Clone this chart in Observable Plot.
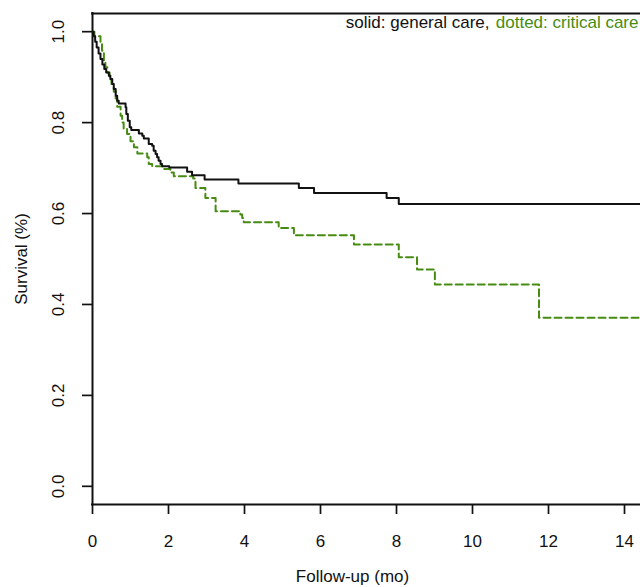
<!DOCTYPE html>
<html><head><meta charset="utf-8">
<script src="https://cdn.jsdelivr.net/npm/d3@7"></script>
<script src="https://cdn.jsdelivr.net/npm/@observablehq/plot@0.6"></script>
<style>html,body{margin:0;padding:0;background:#fff;overflow:hidden}</style>
</head><body><div id="chart"></div>
<script>
// Kaplan-Meier estimates (time in months, survival proportion)
const generalTime = [0, 0.03, 0.07, 0.11, 0.16, 0.21, 0.26, 0.31, 0.36, 0.43, 0.47, 0.52, 0.56, 0.61, 0.65, 0.69, 0.87, 0.89, 0.93, 0.98, 1.02, 1.22, 1.31, 1.35, 1.48, 1.57, 1.61, 1.66, 1.70, 1.74, 1.79, 1.83, 2.02, 2.49, 2.62, 2.95, 3.84, 5.43, 5.83, 7.74, 8.06, 14.42];
const generalSurv = [1.0, 0.99, 0.978, 0.965, 0.952, 0.94, 0.928, 0.918, 0.91, 0.903, 0.896, 0.885, 0.874, 0.859, 0.848, 0.842, 0.834, 0.819, 0.804, 0.790, 0.784, 0.776, 0.771, 0.765, 0.753, 0.749, 0.738, 0.731, 0.724, 0.716, 0.709, 0.704, 0.701, 0.692, 0.684, 0.675, 0.666, 0.656, 0.645, 0.634, 0.621, 0.621];
const criticalTime = [0, 0.05, 0.21, 0.25, 0.30, 0.34, 0.39, 0.45, 0.50, 0.56, 0.61, 0.65, 0.74, 0.78, 0.82, 0.91, 1.00, 1.09, 1.18, 1.44, 1.48, 1.57, 1.88, 2.05, 2.14, 2.65, 2.71, 2.97, 3.24, 3.89, 3.94, 3.98, 4.90, 5.30, 6.88, 8.06, 8.54, 9.01, 11.75, 14.42];
const criticalSurv = [1.0, 0.99, 0.973, 0.958, 0.935, 0.922, 0.91, 0.895, 0.885, 0.868, 0.853, 0.835, 0.815, 0.80, 0.786, 0.775, 0.759, 0.746, 0.732, 0.724, 0.709, 0.704, 0.698, 0.690, 0.682, 0.677, 0.656, 0.634, 0.605, 0.598, 0.590, 0.581, 0.568, 0.552, 0.532, 0.504, 0.477, 0.444, 0.371, 0.371];
const xTicks = [0, 2, 4, 6, 8, 10, 12, 14];
const yTicks = [0, 0.2, 0.4, 0.6, 0.8, 1.0];
const xLabel = "Follow-up (mo)";
const yLabel = "Survival (%)";
const legendSolid = "solid: general care,";
const legendDotted = "dotted: critical care";

const green = "#478C12";
const font = "'Liberation Sans', Arial, Helvetica, sans-serif";

const general = generalTime.map((t, i) => ({t, s: generalSurv[i]}));
const critical = criticalTime.map((t, i) => ({t, s: criticalSurv[i]}));

const chart = Plot.plot({
  width: 640,
  height: 587,
  marginLeft: 92,
  marginRight: 0,
  marginTop: 13,
  marginBottom: 83,
  style: {fontFamily: font, fontSize: "17px", background: "white", color: "#111"},
  x: {domain: [0, 548 / 38]},
  y: {domain: [-0.04, 1.04]},
  marks: [
    Plot.axisX({ticks: xTicks, tickSize: 10, tickPadding: 20, tickFormat: d => String(d), fontSize: 17, strokeWidth: 1.7, label: null}),
    Plot.axisY({ticks: yTicks, tickSize: 10, tickFormat: () => "", strokeWidth: 1.7, label: null}),
    Plot.text(yTicks, {x: 0, y: d => d, text: d => d.toFixed(1), rotate: -90, dx: -34, textAnchor: "middle", lineAnchor: "middle", fontSize: 17}),
    Plot.line(critical, {x: "t", y: "s", curve: "step-after", stroke: green, strokeWidth: 2, strokeDasharray: "7,4", clip: true}),
    Plot.line(general, {x: "t", y: "s", curve: "step-after", stroke: "#111", strokeWidth: 2, clip: true}),
    Plot.ruleY([1.04, -0.04], {stroke: "#111", strokeWidth: 2, strokeLinecap: "square"}),
    Plot.ruleX([0], {stroke: "#111", strokeWidth: 2, strokeLinecap: "square"}),
    Plot.text([legendDotted], {frameAnchor: "top-right", text: d => d, textAnchor: "end", lineAnchor: "middle", dx: -2, dy: 9, fill: green, fontSize: 17}),
    Plot.text([legendSolid], {frameAnchor: "top-right", text: d => d, textAnchor: "end", lineAnchor: "middle", dx: -151, dy: 9, fill: "#111", fontSize: 17}),
    Plot.text([xLabel], {frameAnchor: "bottom", text: d => d, textAnchor: "middle", lineAnchor: "middle", dx: -14, dy: 72, fontSize: 17}),
    Plot.text([yLabel], {frameAnchor: "left", text: d => d, textAnchor: "middle", lineAnchor: "middle", rotate: -90, dx: -71, fontSize: 17})
  ]
});
document.getElementById("chart").appendChild(chart);
</script>
</body></html>
